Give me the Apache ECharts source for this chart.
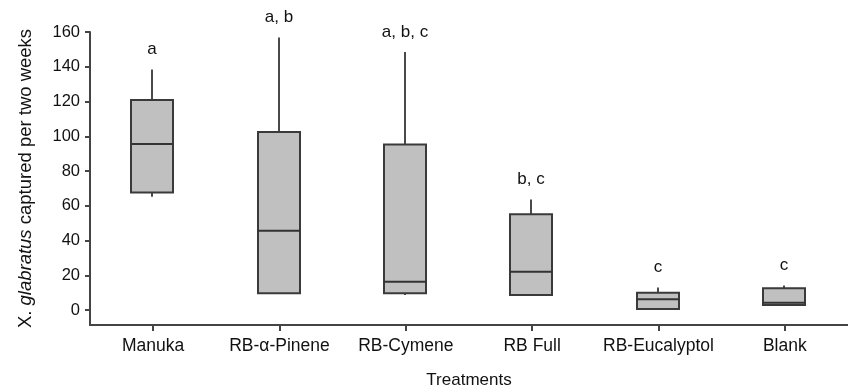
<!DOCTYPE html>
<html>
<head>
<meta charset="utf-8">
<script src="https://cdn.jsdelivr.net/npm/echarts@6/dist/echarts.min.js"></script>
<style>
    html, body { margin: 0; padding: 0; background: #fff; }
    #chart { width: 848px; height: 390px; }
</style>
</head>
<body>
<div id="chart"></div>
<script>
    // values
    let categories = ['Manuka', 'RB-α-Pinene', 'RB-Cymene', 'RB Full', 'RB-Eucalyptol', 'Blank'];
    let whiskerLow = [65.2, 9.6, 8.6, 8.6, 0.6, 2.9];
    let q1 = [67.7, 9.6, 9.6, 8.6, 0.6, 2.9];
    let median = [95.5, 45.6, 16.3, 22.0, 6.2, 4.2];
    let q3 = [120.8, 102.5, 95.3, 55.2, 10.0, 12.6];
    let whiskerHigh = [138.4, 156.8, 148.5, 63.6, 13.0, 14.2];
    let letters = ['a', 'a, b', 'a, b, c', 'b, c', 'c', 'c'];
    let yTicks = [0, 20, 40, 60, 80, 100, 120, 140, 160];

    let font = 'Liberation Sans, Arial, sans-serif';

    let boxData = categories.map((c, i)=> {
        return [i, whiskerLow[i], q1[i], median[i], q3[i], whiskerHigh[i]];
    });

    let chart = echarts.init(document.getElementById('chart'));

    let renderBox = function (params, api) {
        let idx = api.value(0);
        let low = api.coord([idx, api.value(1)]);
        let bq1 = api.coord([idx, api.value(2)]);
        let med = api.coord([idx, api.value(3)]);
        let bq3 = api.coord([idx, api.value(4)]);
        let high = api.coord([idx, api.value(5)]);
        let cx = Math.round(low[0]) - 1;
        let half = 21;
        let lineStyle = {stroke: '#4a4a4a', lineWidth: 2};
        let children = [];
        // upper whisker
        children.push({type: 'line', shape: {x1: cx, y1: high[1], x2: cx, y2: bq3[1]}, style: lineStyle});
        // lower whisker
        if (low[1] - bq1[1] > 0.5) {
            children.push({type: 'line', shape: {x1: cx, y1: bq1[1], x2: cx, y2: low[1]}, style: lineStyle});
        }
        children.push({
            type: 'rect',
            shape: {x: cx - half, y: bq3[1], width: half * 2, height: bq1[1] - bq3[1]},
            style: {fill: '#c0c0c0', stroke: '#3a3a3a', lineWidth: 2}
        });
        children.push({type: 'line', shape: {x1: cx - half, y1: med[1], x2: cx + half, y2: med[1]},
            style: {stroke: '#333', lineWidth: 2}});
        children.push({
            type: 'text',
            style: {
                x: cx, y: high[1] - 20,
                text: letters[idx],
                fill: '#111',
                font: '17px ' + font,
                align: 'center',
                verticalAlign: 'middle'
            }
        });
        return {type: 'group', children: children};
    };

    let option = {
        animation: false,
        grid: {left: 90, right: 0, top: 32, bottom: 65, containLabel: false, outerBoundsMode: 'none'},
        xAxis: {
            type: 'category',
            data: categories,
            name: 'Treatments',
            nameLocation: 'middle',
            nameGap: 47,
            nameTextStyle: {fontFamily: font, fontSize: 17, color: '#111'},
            axisLine: {onZero: false, lineStyle: {color: '#444', width: 2}},
            axisTick: {show: true, alignWithLabel: true, length: 6, lineStyle: {color: '#444', width: 2}},
            axisLabel: {interval: 0, fontFamily: font, fontSize: 17.5, color: '#111', margin: 12}
        },
        yAxis: {
            type: 'value',
            min: -8.6,
            max: 160,
            splitNumber: 8,
            name: 'X. {i|glabratus} captured per two weeks',
            nameLocation: 'middle',
            nameGap: 55,
            nameTextStyle: {
                fontFamily: font, fontSize: 18.5, color: '#111',
                rich: {i: {fontFamily: font, fontSize: 18.5, fontStyle: 'italic', color: '#111'}}
            },
            splitLine: {show: false},
            axisLine: {show: true, lineStyle: {color: '#444', width: 2}},
            axisTick: {show: true, length: 5, customValues: yTicks, lineStyle: {color: '#444', width: 2}},
            axisLabel: {fontFamily: font, fontSize: 16.5, color: '#111', margin: 10, customValues: yTicks}
        },
        series: [{
            type: 'custom',
            renderItem: renderBox,
            encode: {x: 0, y: [1, 2, 3, 4, 5]},
            data: boxData,
            clip: false
        }]
    };
    chart.setOption(option);
</script>
</body>
</html>
